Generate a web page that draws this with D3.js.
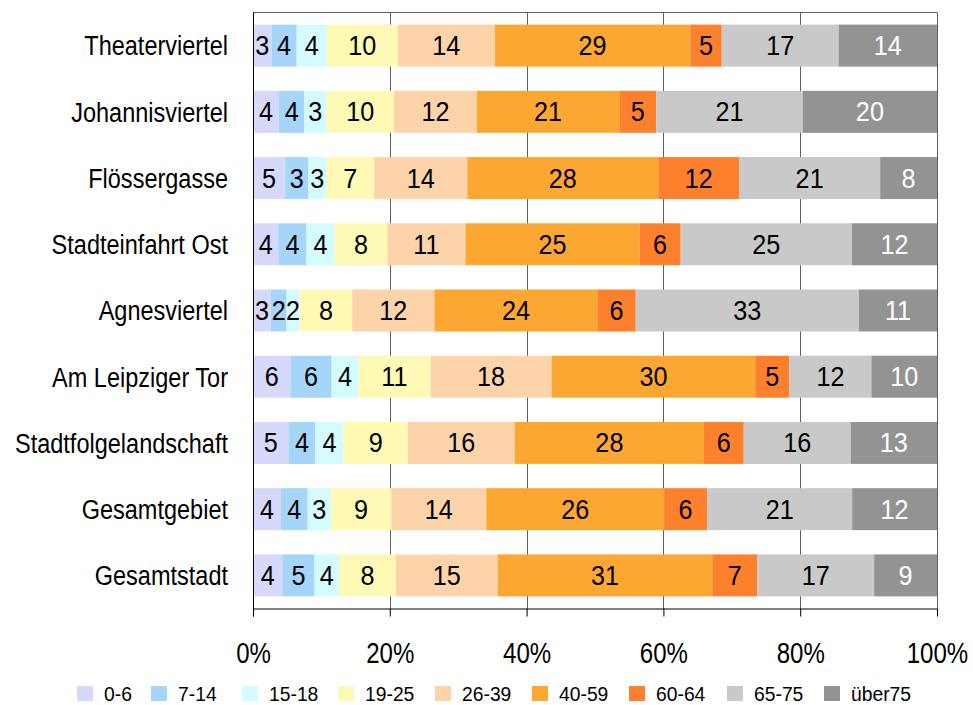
<!DOCTYPE html>
<html>
<head>
<meta charset="utf-8">
<script src="https://cdn.jsdelivr.net/npm/d3@7"></script>
<style>
  html, body { margin: 0; padding: 0; background: #fff; }
  svg { display: block; }
  text { font-family: "Liberation Sans", Arial, sans-serif; }
</style>
</head>
<body>
<svg id="chart" width="973" height="705"></svg>
<script>
// ---- data ----
const categories = ["Theaterviertel", "Johannisviertel", "Flössergasse", "Stadteinfahrt Ost",
  "Agnesviertel", "Am Leipziger Tor", "Stadtfolgelandschaft", "Gesamtgebiet", "Gesamtstadt"];
const ageGroups = ["0-6", "7-14", "15-18", "19-25", "26-39", "40-59", "60-64", "65-75", "über75"];
const v_0_6    = [2.7, 3.8, 4.7, 3.7, 2.6, 5.5, 5.2, 4.1, 4.3];
const v_7_14   = [3.7, 3.7, 3.4, 4.1, 2.3, 6.0, 3.9, 3.9, 4.7];
const v_15_18  = [4.4, 3.2, 2.6, 4.1, 1.9, 3.9, 4.1, 3.4, 3.6];
const v_19_25  = [10.4, 9.9, 7.0, 7.7, 7.7, 10.6, 9.4, 8.8, 8.3];
const v_26_39  = [14.2, 12.1, 13.6, 11.4, 12.0, 17.7, 15.6, 13.9, 14.9];
const v_40_59  = [28.6, 20.8, 27.9, 25.4, 23.8, 29.8, 27.6, 26.0, 31.4];
const v_60_64  = [4.6, 5.4, 11.8, 6.0, 5.6, 5.0, 5.8, 6.3, 6.6];
const v_65_75  = [17.1, 21.4, 20.6, 25.0, 32.6, 12.0, 15.6, 21.2, 17.1];
const v_ueber75 = [14.4, 19.6, 8.3, 12.4, 11.4, 9.6, 12.6, 12.4, 9.2];
const seriesValues = [v_0_6, v_7_14, v_15_18, v_19_25, v_26_39, v_40_59, v_60_64, v_65_75, v_ueber75];
const tickValues = [0, 0.2, 0.4, 0.6, 0.8, 1.0];
const tickLabels = ["0%", "20%", "40%", "60%", "80%", "100%"];

// ---- style ----
const colors = ["#D6D9FB", "#A5D5F9", "#D4FBFF", "#FEF9B5", "#FDD4AA", "#FDA733", "#FD812D", "#C9C9C9", "#939393"];
const labelColors = ["#000", "#000", "#000", "#000", "#000", "#000", "#000", "#000", "#fff"];

const rows = categories.map((c, i) => {
  const r = { cat: c };
  ageGroups.forEach((g, j) => r[g] = seriesValues[j][i]);
  return r;
});

// horizontally condense text (emulates a narrow typeface)
function condense(sel, s) {
  sel.each(function () {
    const t = d3.select(this);
    const x0 = +t.attr("x") || 0;
    t.attr("x", x0 / s).attr("transform", `scale(${s},1)`);
  });
}

const svg = d3.select("#chart");
const pLeft = 253, pRight = 937, pTop = 12.5, pBottom = 608.5;

const x = d3.scaleLinear().domain([0, 1]).range([pLeft, pRight]);
const y = d3.scaleBand().domain(categories).range([pTop, pBottom]).paddingInner(0.366).paddingOuter(0.183);

const stack = d3.stack().keys(ageGroups).offset(d3.stackOffsetExpand);
const stacked = stack(rows);

// grid lines
svg.append("g").selectAll("line").data(tickValues.slice(1, 5)).join("line")
  .attr("x1", d => Math.round(x(d)) + 0.5).attr("x2", d => Math.round(x(d)) + 0.5)
  .attr("y1", pTop).attr("y2", pBottom)
  .attr("stroke", "#5f5f5f").attr("stroke-width", 1);
// top and right border
svg.append("path")
  .attr("d", `M${pLeft},${pTop}H${pRight + 0.5}V${pBottom}`)
  .attr("fill", "none").attr("stroke", "#5f5f5f").attr("stroke-width", 1);

// bars
const gBars = svg.append("g");
stacked.forEach((s, j) => {
  gBars.append("g").attr("fill", colors[j]).selectAll("rect").data(s).join("rect")
    .attr("x", d => x(d[0]))
    .attr("width", d => x(d[1]) - x(d[0]))
    .attr("y", d => y(d.data.cat))
    .attr("height", y.bandwidth());
});

// labels
const gLab = svg.append("g").attr("font-size", 28).attr("text-anchor", "middle");
stacked.forEach((s, j) => {
  gLab.append("g").attr("fill", labelColors[j]).selectAll("text").data(s).join("text")
    .attr("x", d => (x(d[0]) + x(d[1])) / 2)
    .attr("y", d => y(d.data.cat) + y.bandwidth() / 2)
    .attr("dy", "0.34em")
    .text(d => Math.round(d.data[ageGroups[j]]))
    .call(condense, 0.9);
});

// x axis
const xAxis = d3.axisBottom(x).tickValues(tickValues).tickFormat((d, i) => tickLabels[i]).tickSize(8);
const gx = svg.append("g").attr("transform", `translate(0,${pBottom})`).call(xAxis);
gx.select(".domain").attr("stroke", "#000").attr("d", `M${pLeft},0.5H${pRight}`);
gx.selectAll(".tick line").attr("stroke", "#000");
gx.selectAll(".tick text").attr("font-size", 29).attr("fill", "#000")
  .style("font-family", '"Liberation Sans", Arial, sans-serif')
  .attr("y", 54.5).attr("dy", 0)
  .call(condense, 0.83);

// y axis
const yAxis = d3.axisLeft(y).tickSize(0).tickPadding(25);
const gy = svg.append("g").attr("transform", `translate(${pLeft},0)`).call(yAxis);
gy.select(".domain").attr("stroke", "#000").attr("d", `M0.5,${pTop}V${pBottom + 8}`);
gy.selectAll(".tick text").attr("font-size", 28).attr("fill", "#000")
  .style("font-family", '"Liberation Sans", Arial, sans-serif')
  .attr("dy", "0.35em")
  .call(condense, 0.84);

// legend
const legendX = [77, 151, 242, 338, 435, 532, 629, 727, 824];
const gLeg = svg.append("g");
ageGroups.forEach((g, j) => {
  const it = gLeg.append("g").attr("transform", `translate(${legendX[j]},686)`);
  it.append("rect").attr("width", 16).attr("height", 15).attr("fill", colors[j]);
  it.append("text").attr("x", 27).attr("y", 15).attr("font-size", 21).attr("fill", "#000").text(g)
    .call(condense, 0.92);
});
</script>
</body>
</html>
